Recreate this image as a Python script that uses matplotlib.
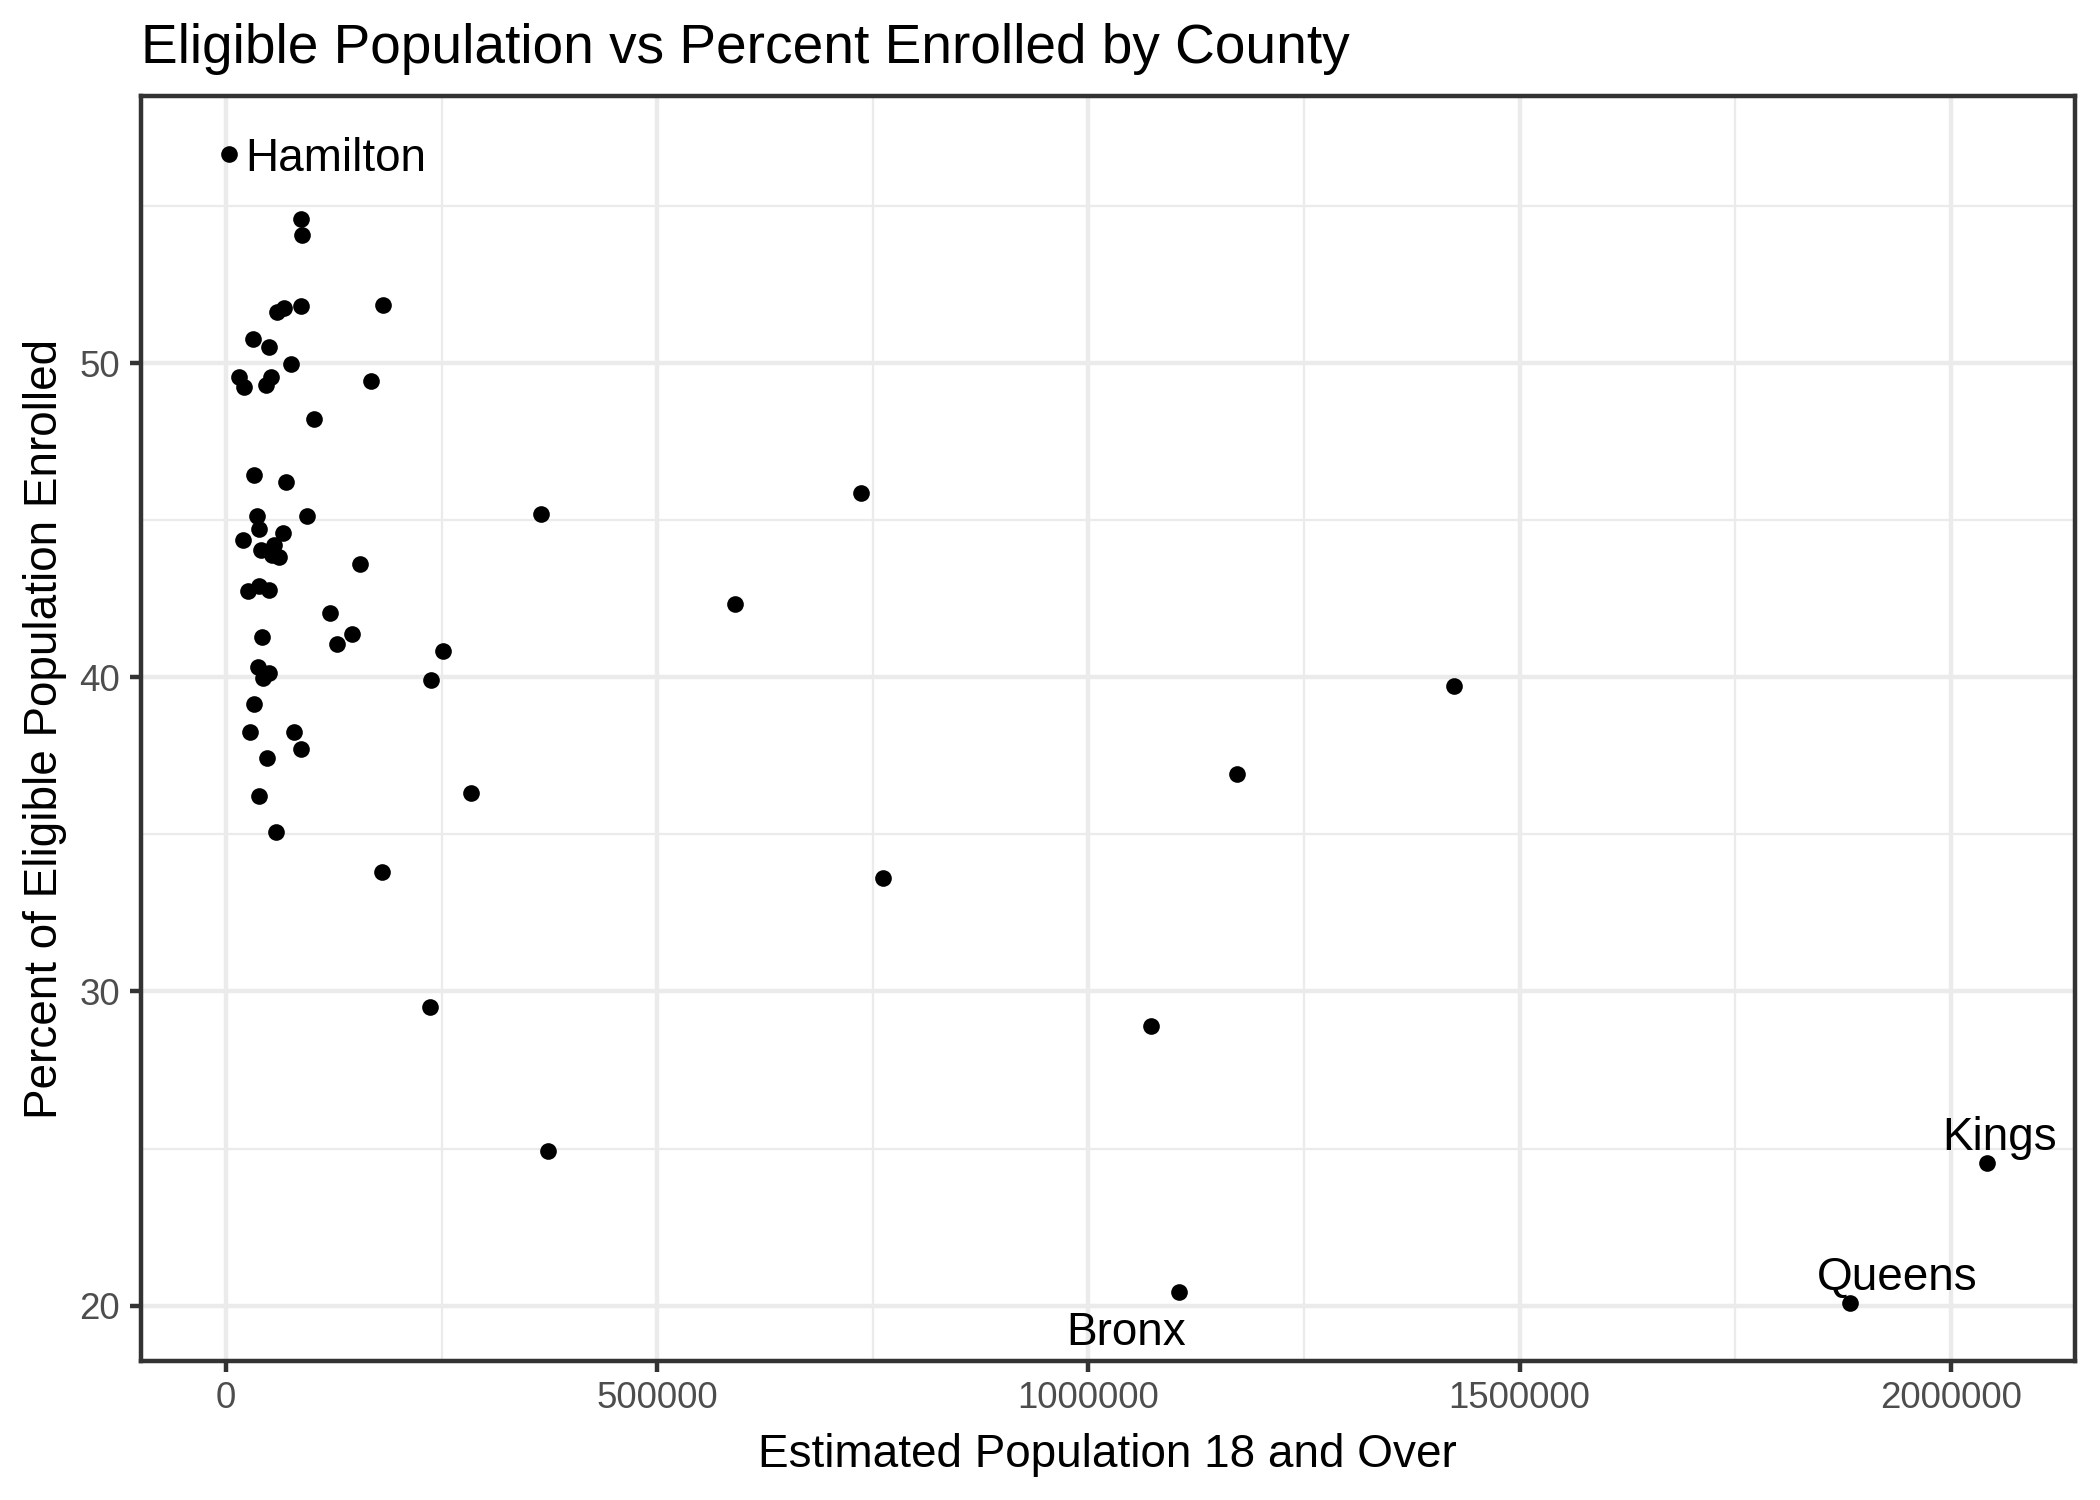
"""Eligible population vs percent enrolled, by county."""

import matplotlib
matplotlib.use("Agg")
import matplotlib.pyplot as plt
from matplotlib.ticker import FixedLocator

plt.rcParams["font.family"] = ["Liberation Sans", "DejaVu Sans"]

# estimated population 18+, percent of eligible population enrolled
pop = [
    3100, 86800, 88700, 59800, 67500, 86800, 182500, 30900, 49800, 75500,
    15400, 20500, 52700, 46900, 168600, 101600, 32000, 70200, 93700, 365400,
    36600, 37800, 66000, 19300, 40500, 55900, 54000, 61700, 155900, 25100,
    38600, 50100, 121200, 41300, 146600, 128500, 252000, 36700, 50100, 42600,
    238000, 32000, 27400, 79500, 86500, 48200, 284400, 37800, 58600, 181300,
    236900, 373100, 735800, 590000, 1423600, 1172300, 761600, 1072500,
    1104600, 1882700, 2041700,
]
pct = [
    56.67, 54.61, 54.10, 51.64, 51.75, 51.83, 51.87, 50.79, 50.53, 49.97,
    49.57, 49.26, 49.57, 49.31, 49.45, 48.23, 46.45, 46.21, 45.13, 45.22,
    45.13, 44.73, 44.60, 44.39, 44.07, 44.23, 43.91, 43.85, 43.61, 42.74,
    42.90, 42.77, 42.04, 41.29, 41.38, 41.06, 40.84, 40.32, 40.15, 39.99,
    39.91, 39.16, 38.26, 38.26, 37.73, 37.44, 36.32, 36.23, 35.08, 33.79,
    29.52, 24.92, 45.87, 42.35, 39.72, 36.92, 33.61, 28.89,
    20.42, 20.08, 24.53,
]

# labelled counties: name, population, percent
label_names = ["Hamilton", "Kings", "Queens", "Bronx"]
label_pop = [3100, 2041700, 1882700, 1104600]
label_pct = [56.67, 24.53, 20.08, 20.42]

X_TICKS = [0, 500000, 1000000, 1500000, 2000000]
Y_TICKS = [20, 30, 40, 50]


def main():
    fig = plt.figure(figsize=(7, 5), dpi=300)
    ax = fig.add_axes([0.067, 0.093, 0.921, 0.8427])

    ax.scatter(pop, pct, s=16, color="black", linewidths=0, zorder=3)

    # label placement (offset in points, alignment) roughly like ggrepel
    offsets = {
        "Hamilton": ((3.9, -1.3), "left"),
        "Kings": ((3.1, 6.1), "center"),
        "Queens": ((11.3, 6.0), "center"),
        "Bronx": ((-12.5, -9.8), "center"),
    }
    for name, x, y in zip(label_names, label_pop, label_pct):
        off, ha = offsets[name]
        ax.annotate(name, (x, y), xytext=off, textcoords="offset points",
                    ha=ha, va="center", fontsize=11, color="black")

    ax.set_xlim(-98800, 2143600)
    ax.set_ylim(18.25, 58.5)
    ax.set_xticks(X_TICKS)
    ax.set_xticklabels([str(t) for t in X_TICKS])
    ax.set_yticks(Y_TICKS)
    ax.set_yticklabels([str(t) for t in Y_TICKS])
    ax.xaxis.set_minor_locator(FixedLocator([250000, 750000, 1250000, 1750000]))
    ax.yaxis.set_minor_locator(FixedLocator([25, 35, 45, 55]))

    ax.grid(which="major", color="#EBEBEB", lw=1.07)
    ax.grid(which="minor", color="#EBEBEB", lw=0.53)
    ax.set_axisbelow(True)
    ax.tick_params(which="major", length=2.75, width=1.07, color="#333333",
                   labelsize=8.8, labelcolor="#4D4D4D", pad=2.2)
    ax.tick_params(which="minor", length=0)
    for sp in ax.spines.values():
        sp.set_color("#333333")
        sp.set_linewidth(1.07)

    ax.set_xlabel("Estimated Population 18 and Over", fontsize=11, labelpad=4)
    ax.set_ylabel("Percent of Eligible Population Enrolled", fontsize=11, labelpad=3)
    ax.set_title("Eligible Population vs Percent Enrolled by County",
                 fontsize=13.2, loc="left", pad=8)

    fig.savefig("out.png", dpi=300)


if __name__ == "__main__":
    main()
